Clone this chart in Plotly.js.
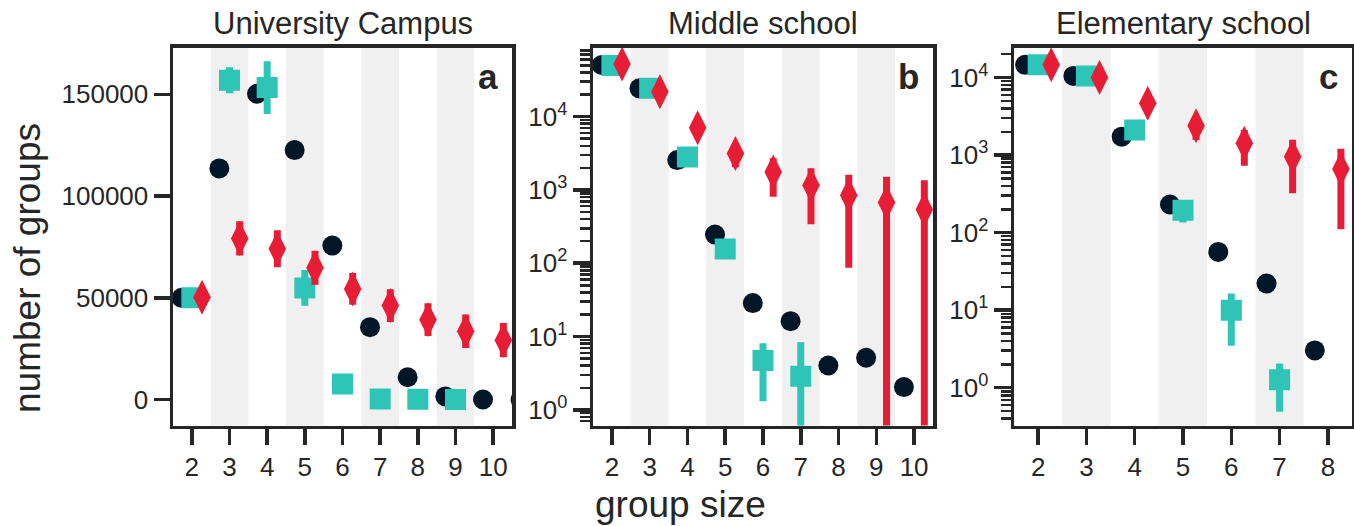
<!DOCTYPE html>
<html>
<head>
<meta charset="utf-8">
<script src="https://cdn.plot.ly/plotly-3.0.1.min.js"></script>
<style>
  html, body { margin: 0; padding: 0; background: #ffffff; }
  #chart { width: 1354px; height: 526px; }
</style>
</head>
<body>
<div id="chart"></div>
<script>
// ---- Observed / simulated group counts by group size ----

// (a) University Campus
const campusObsSizes   = [2, 3, 4, 5, 6, 7, 8, 9, 10, 11];
const campusObsCounts  = [50000, 113600, 150300, 122600, 75700, 35600, 11000, 1600, 100, 0];
const campusSqSizes    = [2, 3, 4, 5, 6, 7, 8, 9];
const campusSqCounts   = [50000, 156900, 153300, 54900, 7700, 300, 150, 100];
const campusSqErr      = [0, 6400, 13000, 8800, 0, 0, 0, 0];
const campusDmSizes    = [2, 3, 4, 5, 6, 7, 8, 9, 10];
const campusDmCounts   = [50300, 79200, 74100, 64800, 54400, 46200, 39300, 33600, 29200];
const campusDmErr      = [0, 8400, 9100, 8400, 7800, 8000, 8000, 8200, 8400];

// (b) Middle school
const middleObsSizes   = [2, 3, 4, 5, 6, 7, 8, 9, 10];
const middleObsCounts  = [50600, 24300, 2550, 246, 28.6, 16.2, 4.03, 5.13, 2.04];
const middleSqSizes    = [2, 3, 4, 5, 6, 7];
const middleSqCounts   = [50000, 24300, 2820, 156, 4.71, 2.88];
const middleSqErr      = [0, 0, 0, 40, 3.4, 5.5];
const middleDmSizes    = [2, 3, 4, 5, 6, 7, 8, 9, 10];
const middleDmCounts   = [52100, 21800, 7030, 3140, 1760, 1160, 847, 673, 540];
const middleDmErr      = [0, 0, 0, 1100, 950, 820, 760, 840, 816];

// (c) Elementary school
const elemObsSizes     = [2, 3, 4, 5, 6, 7, 8];
const elemObsCounts    = [14600, 10500, 1730, 231, 56.5, 22.1, 3.03];
const elemSqSizes      = [2, 3, 4, 5, 6, 7];
const elemSqCounts     = [14600, 10500, 2110, 195, 9.97, 1.27];
const elemSqErr        = [0, 0, 0, 60, 6.5, 0.78];
const elemDmSizes      = [2, 3, 4, 5, 6, 7, 8];
const elemDmCounts     = [14600, 10000, 4670, 2400, 1420, 953, 661];
const elemDmErr        = [0, 0, 0, 830, 690, 630, 550];

// Axis ticks and labels
const campusTickVals   = [0, 50000, 100000, 150000];
const campusTickText   = ['0', '50000', '100000', '150000'];
const logTickVals      = [1, 10, 100, 1000, 10000];
const logTickText      = ['10<sup>0</sup>', '10<sup>1</sup>', '10<sup>2</sup>', '10<sup>3</sup>', '10<sup>4</sup>'];
const campusXTicks     = [2, 3, 4, 5, 6, 7, 8, 9, 10];
const middleXTicks     = [2, 3, 4, 5, 6, 7, 8, 9, 10];
const elemXTicks       = [2, 3, 4, 5, 6, 7, 8];

const panelTitles      = ['University Campus', 'Middle school', 'Elementary school'];
const panelLetters     = ['a', 'b', 'c'];

// ---- Styling ----
const INK   = '#262626';
const NAVY  = '#011627';
const TEAL  = '#2ec4b6';
const RED   = '#e71d36';
const BAND  = '#f0f0f0';
const FONT  = 'Liberation Sans, Arial, Helvetica, sans-serif';
const SHIFT = 0.27;        // horizontal dodge between the three series
const W = 1354, H = 526;

// pixel frame of each panel
const frames = [
  { x0: 173, x1: 512 },
  { x0: 593, x1: 933 },
  { x0: 1014, x1: 1352 }
];
const yTop = 47.5, yBot = 425.5;
const yDomain = [1 - yBot / H, 1 - yTop / H];

function shifted(arr, d) { return arr.map(v => v + d); }

function panelTraces(ax, obsX, obsY, sqX, sqY, sqE, dmX, dmY, dmE) {
  const xa = 'x' + (ax === 1 ? '' : ax), ya = 'y' + (ax === 1 ? '' : ax);
  return [
    { type: 'scatter', mode: 'markers', xaxis: xa, yaxis: ya,
      x: shifted(obsX, -SHIFT), y: obsY,
      marker: { symbol: 'circle', size: 20, color: NAVY, line: { width: 0 } } },
    { type: 'scatter', mode: 'markers', xaxis: xa, yaxis: ya,
      x: sqX, y: sqY,
      error_y: { type: 'data', array: sqE, visible: true, color: TEAL, thickness: 7, width: 0 },
      marker: { symbol: 'square', size: 21, color: TEAL, line: { width: 0 } } },
    { type: 'scatter', mode: 'markers', xaxis: xa, yaxis: ya,
      x: shifted(dmX, SHIFT), y: dmY,
      error_y: { type: 'data', array: dmE, visible: true, color: RED, thickness: 7, width: 0 },
      marker: { symbol: 'diamond-tall', size: 25, color: RED, line: { width: 0 } } }
  ];
}

const traces = [].concat(
  panelTraces(1, campusObsSizes, campusObsCounts, campusSqSizes, campusSqCounts, campusSqErr,
              campusDmSizes, campusDmCounts, campusDmErr),
  panelTraces(2, middleObsSizes, middleObsCounts, middleSqSizes, middleSqCounts, middleSqErr,
              middleDmSizes, middleDmCounts, middleDmErr),
  panelTraces(3, elemObsSizes, elemObsCounts, elemSqSizes, elemSqCounts, elemSqErr,
              elemDmSizes, elemDmCounts, elemDmErr)
);

// minor ticks on the log axes: 2..9 times each power of ten
const minorVals = [];
for (let k = -1; k <= 4; k++) {
  for (let m = 2; m <= 9; m++) minorVals.push(m * Math.pow(10, k));
}

const baseAxis = {
  showline: true, linewidth: 3.5, linecolor: INK, mirror: true,
  ticks: 'outside', ticklen: 16, tickwidth: 3.5, tickcolor: INK,
  showgrid: false, zeroline: false,
  tickfont: { family: FONT, size: 26, color: INK },
  fixedrange: true
};

function xAxis(i, ticks, hi) {
  return Object.assign({}, baseAxis, {
    domain: [frames[i].x0 / W, frames[i].x1 / W],
    range: [1.5, hi],
    tickmode: 'array', tickvals: ticks, ticktext: ticks.map(String),
    anchor: 'y' + (i === 0 ? '' : i + 1)
  });
}

function logAxis(i, lo, hi) {
  return Object.assign({}, baseAxis, {
    type: 'log', domain: yDomain, range: [lo, hi],
    tickmode: 'array', tickvals: logTickVals, ticktext: logTickText,
    ticklen: 17,
    minor: { tickmode: 'array', tickvals: minorVals, ticks: 'outside',
             ticklen: 10, tickwidth: 2.5, tickcolor: INK, showgrid: false },
    anchor: 'x' + (i + 1)
  });
}

// alternating shaded bands behind odd group sizes
const shapes = [];
[[campusXTicks, 'x'], [middleXTicks, 'x2'], [elemXTicks, 'x3']].forEach(([ticks, xr]) => {
  ticks.forEach(g => {
    if (g % 2 === 1) {
      shapes.push({ type: 'rect', xref: xr, yref: xr.replace('x', 'y') + ' domain',
                    x0: g - 0.5, x1: g + 0.5, y0: 0, y1: 1,
                    fillcolor: BAND, line: { width: 0 }, layer: 'below' });
    }
  });
});

const annotations = [];
frames.forEach((f, i) => {
  annotations.push({
    xref: 'paper', yref: 'paper', x: (f.x0 + f.x1) / 2 / W, y: 1 - 24 / H,
    xanchor: 'center', yanchor: 'middle', showarrow: false,
    text: panelTitles[i], font: { family: FONT, size: 31, color: INK }
  });
  annotations.push({
    xref: 'paper', yref: 'paper', x: (f.x1 - 12) / W, y: 1 - 77 / H,
    xanchor: 'right', yanchor: 'middle', showarrow: false,
    text: '<b>' + panelLetters[i] + '</b>', font: { family: FONT, size: 35, color: INK }
  });
});
annotations.push({
  xref: 'paper', yref: 'paper', x: 27 / W, y: 1 - 268 / H,
  xanchor: 'center', yanchor: 'middle', showarrow: false, textangle: -90,
  text: 'number of groups', font: { family: FONT, size: 37, color: INK }
});
annotations.push({
  xref: 'paper', yref: 'paper', x: 680.5 / W, y: 1 - 504 / H,
  xanchor: 'center', yanchor: 'middle', showarrow: false,
  text: 'group size', font: { family: FONT, size: 37, color: INK }
});

const layout = {
  width: W, height: H,
  margin: { l: 0, r: 0, t: 0, b: 0 },
  paper_bgcolor: '#ffffff', plot_bgcolor: '#ffffff',
  showlegend: false,
  font: { family: FONT, color: INK },
  xaxis:  xAxis(0, campusXTicks, 10.5),
  xaxis2: xAxis(1, middleXTicks, 10.5),
  xaxis3: xAxis(2, elemXTicks, 8.5),
  yaxis: Object.assign({}, baseAxis, {
    domain: yDomain, range: [-12700, 173000],
    tickmode: 'array', tickvals: campusTickVals, ticktext: campusTickText,
    anchor: 'x'
  }),
  yaxis2: logAxis(1, -0.214, 4.943),
  yaxis3: logAxis(2, -0.487, 4.388),
  shapes: shapes,
  annotations: annotations
};

Plotly.newPlot('chart', traces, layout, { staticPlot: true, displayModeBar: false });
</script>
</body>
</html>
